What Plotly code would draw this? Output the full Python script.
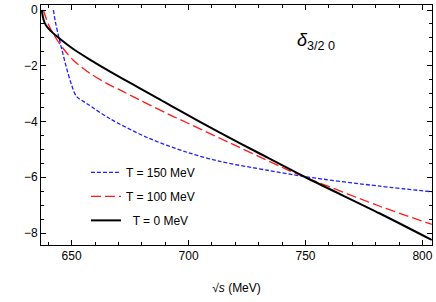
import plotly.graph_objects as go

# T = 0 MeV
x_t0 = [637.2, 638.0, 639.0, 641.0, 643.0, 645.5, 650.7, 657.8, 665.0, 672.1, 679.2, 686.3, 694.9, 713.0, 730.0, 750.0, 781.8, 804.0]
y_t0 = [0.0, -0.35, -0.55, -0.75, -0.9, -1.07, -1.4, -1.78, -2.14, -2.48, -2.81, -3.14, -3.55, -4.38, -5.13, -6.0, -7.3, -8.25]
# T = 100 MeV
x_t100 = [637.9, 640.0, 642.9, 646.4, 650.7, 657.8, 665.0, 672.1, 679.2, 691.0, 700.0, 713.4, 742.8, 750.0, 781.8, 804.0]
y_t100 = [0.0, -0.5, -0.96, -1.38, -1.8, -2.27, -2.63, -2.93, -3.23, -3.72, -4.07, -4.6, -5.75, -6.0, -7.04, -7.69]
# T = 150 MeV
x_t150 = [642.2, 643.0, 644.3, 645.7, 647.9, 650.0, 652.1, 656.4, 666.4, 683.0, 700.0, 713.4, 734.5, 750.0, 781.8, 804.0]
y_t150 = [0.0, -0.4, -0.9, -1.38, -2.1, -2.69, -3.1, -3.35, -3.9, -4.6, -5.12, -5.43, -5.76, -5.98, -6.32, -6.52]

fig = go.Figure()
fig.add_trace(go.Scatter(x=x_t150, y=y_t150, mode="lines", name="T = 150 MeV", legendgroup="a",
                         line=dict(color="#2020ff", width=1.3, dash="4px,2px", shape="spline", smoothing=0.9)))
fig.add_trace(go.Scatter(x=x_t100, y=y_t100, mode="lines", name="T = 100 MeV", legendgroup="b",
                         line=dict(color="#ff1a1a", width=1.3, dash="10px,4px", shape="spline", smoothing=0.9)))
fig.add_trace(go.Scatter(x=x_t0, y=y_t0, mode="lines", name="\u00a0\u00a0T = 0 MeV", legendgroup="c",
                         line=dict(color="black", width=2, shape="spline", smoothing=0.9)))

font_family = "Liberation Sans, Arial, sans-serif"
axis_common = dict(showline=True, linecolor="black", linewidth=1, mirror="allticks",
                   ticks="inside", ticklen=5, tickcolor="black", showgrid=False, zeroline=False,
                   ticklabeloverflow="allow",
                   tickfont=dict(family=font_family, size=12, color="black"))

fig.update_xaxes(range=[636.9, 804.1], tickvals=[650, 700, 750, 800],
                 minor=dict(dtick=10, tick0=600, ticks="inside", ticklen=3, tickcolor="black"),
                 title=dict(text="√<i>s</i> (MeV)", font=dict(family=font_family, size=12, color="black"), standoff=21),
                 **axis_common)
fig.update_yaxes(range=[-8.43, 0.18], tickvals=[0, -2, -4, -6, -8],
                 minor=dict(dtick=0.5, tick0=0, ticks="inside", ticklen=3, tickcolor="black"),
                 **axis_common)

fig.add_annotation(x=0.65, y=0.85, xref="paper", yref="paper", showarrow=False,
                   text="<i>δ</i><sub>3/2 0</sub>", xanchor="left", yanchor="middle",
                   font=dict(family=font_family, size=18, color="black"))

fig.update_layout(
    width=436, height=302,
    margin=dict(l=41, r=3, t=3, b=57),
    paper_bgcolor="white", plot_bgcolor="white",
    showlegend=True,
    legend=dict(x=0.115, y=0.363, xanchor="left", yanchor="top", bgcolor="rgba(0,0,0,0)",
                font=dict(family=font_family, size=12, color="black"),
                tracegroupgap=5, itemwidth=30),
)

fig.write_html("out.html", config={"displayModeBar": False},
               post_script="document.body.style.margin='0';")
